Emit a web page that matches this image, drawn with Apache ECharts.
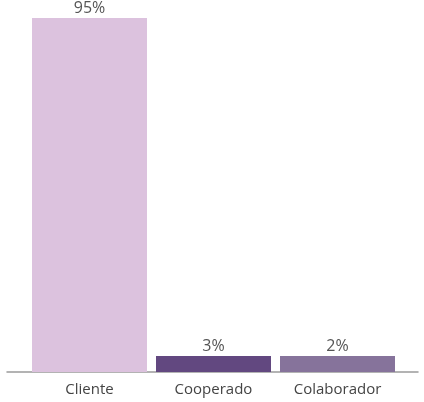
<!DOCTYPE html>
<html><head><meta charset="utf-8">
<script src="https://cdn.jsdelivr.net/npm/echarts@6/dist/echarts.min.js"></script>
<style>html,body{margin:0;padding:0;background:#fff}#c{width:424px;height:402px}</style>
</head><body><div id="c"></div>
<script>
const categories = ['Cliente', 'Cooperado', 'Colaborador'];
const values = [95, 3, 2];
const colors = ['#dcc2de', '#624880', '#86739b'];

const chart = echarts.init(document.getElementById('c'));
chart.setOption({
  animation: false,
  grid: [
    {left: 27.5, right: 24.5, top: 18, bottom: 30},
    {left: 7, right: 6, top: 18, bottom: 30}
  ],
  xAxis: [
    {type: 'category', gridIndex: 0, data: categories,
     axisLine: {show: false}, axisTick: {show: false},
     axisLabel: {margin: 10, fontSize: 15, color: '#444', fontFamily: 'Open Sans'}},
    {type: 'value', gridIndex: 1, min: 0, max: 1,
     axisLine: {show: true, onZero: false, lineStyle: {color: '#9a9a9a', width: 1.5}},
     axisTick: {show: false}, axisLabel: {show: false}, splitLine: {show: false}}
  ],
  yAxis: [
    {type: 'value', gridIndex: 0, min: 0, max: 95, show: false, splitLine: {show: false}},
    {type: 'value', gridIndex: 1, show: false, splitLine: {show: false}}
  ],
  series: [{
    type: 'bar', xAxisIndex: 0, yAxisIndex: 0,
    data: values.map((v, i) => ({value: v, itemStyle: {color: colors[i]}})),
    barWidth: 115, barMinHeight: 16,
    label: {show: true, position: 'top', distance: 2, formatter: '{c}%',
            fontSize: 16, color: '#555', fontFamily: 'Open Sans'}
  }]
});
</script></body></html>
